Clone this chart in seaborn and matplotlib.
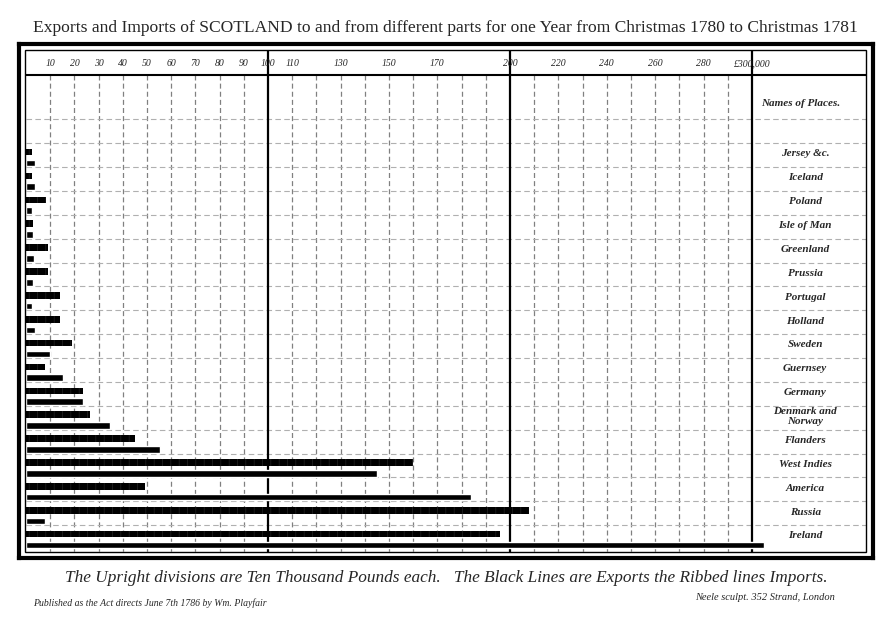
import numpy as np
import pandas as pd
import matplotlib
matplotlib.use("Agg")
import matplotlib.pyplot as plt
import seaborn as sns
from matplotlib.patches import Rectangle

# ---------------- data (thousands of pounds) ----------------
places = ["Jersey &c.", "Iceland", "Poland", "Isle of Man", "Greenland", "Prussia",
          "Portugal", "Holland", "Sweden", "Guernsey", "Germany", "Denmark and\nNorway",
          "Flanders", "West Indies", "America", "Russia", "Ireland"]
imports = [2.5, 2.5, 8.3, 2.9, 9.1, 9.1, 14, 14, 19, 7.9, 23.6, 26.4, 45, 160, 49, 208, 196]
exports = [3.7, 3.7, 2.5, 2.9, 3.3, 2.9, 2.5, 3.7, 9.9, 15.3, 23.6, 34.7, 55.4, 145, 184, 7.9, 305]

tick_values = [10, 20, 30, 40, 50, 60, 70, 80, 90, 100, 110, 130, 150, 170,
               200, 220, 240, 260, 280, 300]
tick_labels = [str(v) for v in tick_values[:-1]] + ["£300,000"]

title = ("Exports and Imports of SCOTLAND to and from different parts for one Year "
         "from Christmas 1780 to Christmas 1781")
footnote = ("The Upright divisions are Ten Thousand Pounds each.   "
            "The Black Lines are Exports the Ribbed lines Imports.")
imprint_left = "Published as the Act directs June 7th 1786 by Wm. Playfair"
imprint_right = "Neele sculpt. 352 Strand, London"

# ---------------- style ----------------
sns.set_theme(style="white")
plt.rcParams["font.family"] = ["Liberation Serif", "DejaVu Serif"]
plt.rcParams["hatch.linewidth"] = 0.5

W, H = 891, 618
fig = plt.figure(figsize=(W / 100, H / 100), dpi=100)
fig.patch.set_facecolor("white")
ax = fig.add_axes([19 / W, 1 - 558 / H, (873 - 19) / W, (558 - 44) / H])

df = pd.DataFrame({
    "place": places * 2,
    "kind": ["Imports"] * len(places) + ["Exports"] * len(places),
    "value": imports + exports,
})

sns.barplot(data=df, x="value", y="place", hue="kind", order=places,
            hue_order=["Imports", "Exports"], orient="h",
            palette={"Imports": "black", "Exports": "black"},
            width=0.9, gap=0.38, legend=False, errorbar=None,
            saturation=1, ax=ax, zorder=3)

# ribbed imports (subtle ribs)
for bar in ax.containers[0]:
    bar.set_hatch("||")
    bar.set_edgecolor("#262626")
    bar.set_linewidth(0)

X0, X1 = -2.9, 350.0
Y_TOP, Y_BOT = -4.754, 16.775
ax.set_xlim(X0, X1)
ax.set_ylim(Y_BOT, Y_TOP)
ax.set_xticks([])
ax.set_yticks([])
ax.set_xlabel("")
ax.set_ylabel("")
for s in ax.spines.values():
    s.set_linewidth(3)
    s.set_color("black")

# inner thin frame
ax.add_patch(Rectangle(((25 - 19) / 854, (558 - 552) / 514), (866 - 25) / 854,
                       (552 - 50) / 514, transform=ax.transAxes, fill=False,
                       lw=1.0, color="black", zorder=5))

inner_top, header_line, inner_bot = -4.50, -3.46, 16.52
inner_right = 347.1

# header rule
ax.hlines(header_line, 0, inner_right, colors="black", lw=1.5, zorder=4)

# vertical divisions
minor = [v for v in range(10, 300, 10) if v % 100 != 0]
ax.vlines(minor, header_line, inner_bot, colors="#808080",
          linestyles=(0, (4, 2.5)), lw=0.9, zorder=1)
ax.vlines([100, 200, 300], inner_top, inner_bot, colors="black", lw=1.6, zorder=2)

# horizontal dashed row lines
rows = np.arange(-2, 16) + 0.4
ax.hlines(rows, 0, inner_right, colors="#b0b0b0", linestyles=(0, (5, 3)),
          lw=0.8, zorder=1)

# scale labels
for v, lab in zip(tick_values, tick_labels):
    ax.text(v, -3.92, lab, ha="center", va="center", fontsize=7,
            style="italic", zorder=6)

# place names
ax.text(320, -2.28, "Names of Places.", ha="center", va="center",
        fontsize=8, style="italic", fontweight="bold", zorder=6)
for i, name in enumerate(places):
    ax.text(322, i - 0.15, name, ha="center", va="center", fontsize=8,
            style="italic", fontweight="bold", linespacing=1.1, zorder=6)

# texts outside the frame
fig.text(0.5, 1 - 28 / H, title, ha="center", va="center", fontsize=12.6)
fig.text(446 / W, 1 - 578 / H, footnote, ha="center", va="center",
         fontsize=12.4, style="italic")
fig.text(33 / W, 1 - 603 / H, imprint_left, ha="left", va="center",
         fontsize=7, style="italic")
fig.text(835 / W, 1 - 598 / H, imprint_right, ha="right", va="center",
         fontsize=7.5, style="italic")

fig.savefig("out.png", dpi=100)
